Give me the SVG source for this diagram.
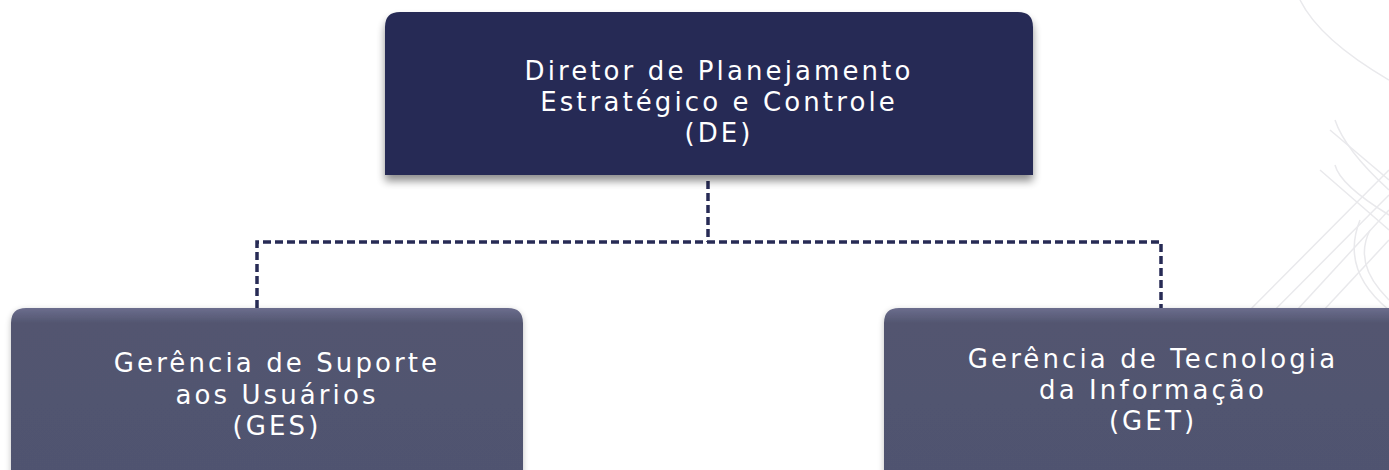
<svg xmlns="http://www.w3.org/2000/svg" width="1389" height="470" viewBox="0 0 1389 470">
<defs>
<style>
.lbl{font-family:"DejaVu Sans","Open Sans","Liberation Sans",sans-serif;font-size:26px;font-weight:400;fill:#ffffff;text-anchor:middle;letter-spacing:3.1px}
.conn{fill:none;stroke:#272b55;stroke-width:3.5;stroke-dasharray:8 4}
.deco{fill:none;stroke:#e9e9ec;stroke-width:1.5}
</style>
<linearGradient id="gSub" x1="0" y1="0" x2="0" y2="1">
<stop offset="0" stop-color="#6b6d8d"/>
<stop offset="0.09" stop-color="#52556f"/>
<stop offset="1" stop-color="#50536f"/>
</linearGradient>
<filter id="shTop" x="-10%" y="-10%" width="120%" height="130%">
<feGaussianBlur in="SourceAlpha" stdDeviation="4"/>
<feOffset dx="0" dy="6" result="b"/>
<feComponentTransfer><feFuncA type="linear" slope="0.45"/></feComponentTransfer>
<feMerge><feMergeNode/><feMergeNode in="SourceGraphic"/></feMerge>
</filter>
<filter id="shSub" x="-10%" y="-10%" width="120%" height="130%">
<feGaussianBlur in="SourceAlpha" stdDeviation="3"/>
<feOffset dx="0" dy="2" result="b"/>
<feComponentTransfer><feFuncA type="linear" slope="0.25"/></feComponentTransfer>
<feMerge><feMergeNode/><feMergeNode in="SourceGraphic"/></feMerge>
</filter>
</defs>
<rect width="1389" height="470" fill="#ffffff"/>
<g id="decoration">
<path class="deco" d="M1150 470 L1389 210"/>
<path class="deco" d="M1175 470 L1389 240"/>
<path class="deco" d="M1230 330 L1389 170"/>
<path class="deco" d="M1240 345 L1389 195"/>
<path class="deco" d="M1300 0 Q1320 40 1389 80"/>
<path class="deco" d="M1330 130 L1389 180"/>
<path class="deco" d="M1335 120 Q1345 150 1389 190"/>
<path class="deco" d="M1335 165 Q1340 185 1389 215"/>
<path class="deco" d="M1320 170 L1389 230"/>
<path class="deco" d="M1370 230 Q1355 260 1380 290 L1389 300"/>
<path class="deco" d="M1360 220 Q1340 270 1389 310"/>
</g>
<g id="connectors">
<path class="conn" d="M708 181 V242"/>
<path class="conn" d="M257 308 V242 H1161 V308"/>
</g>
<g id="node-de">
<path d="M385 27 Q385 12 400 12 H1018 Q1033 12 1033 27 V175 H385 Z" fill="#272b55" filter="url(#shTop)"/>
<text class="lbl" x="719" y="80">Diretor de Planejamento</text>
<text class="lbl" x="719" y="111">Estratégico e Controle</text>
<text class="lbl" x="719" y="142">(DE)</text>
</g>
<g id="node-ges">
<path d="M11 323 Q11 308 26 308 H508 Q523 308 523 323 V480 H11 Z" fill="url(#gSub)" filter="url(#shSub)"/>
<text class="lbl" x="277" y="372">Gerência de Suporte</text>
<text class="lbl" x="277" y="404">aos Usuários</text>
<text class="lbl" x="277" y="435">(GES)</text>
</g>
<g id="node-get">
<path d="M884 323 Q884 308 899 308 H1389 V480 H884 Z" fill="url(#gSub)" filter="url(#shSub)"/>
<text class="lbl" x="1153" y="368">Gerência de Tecnologia</text>
<text class="lbl" x="1153" y="399">da Informação</text>
<text class="lbl" x="1153" y="430">(GET)</text>
</g>
</svg>
